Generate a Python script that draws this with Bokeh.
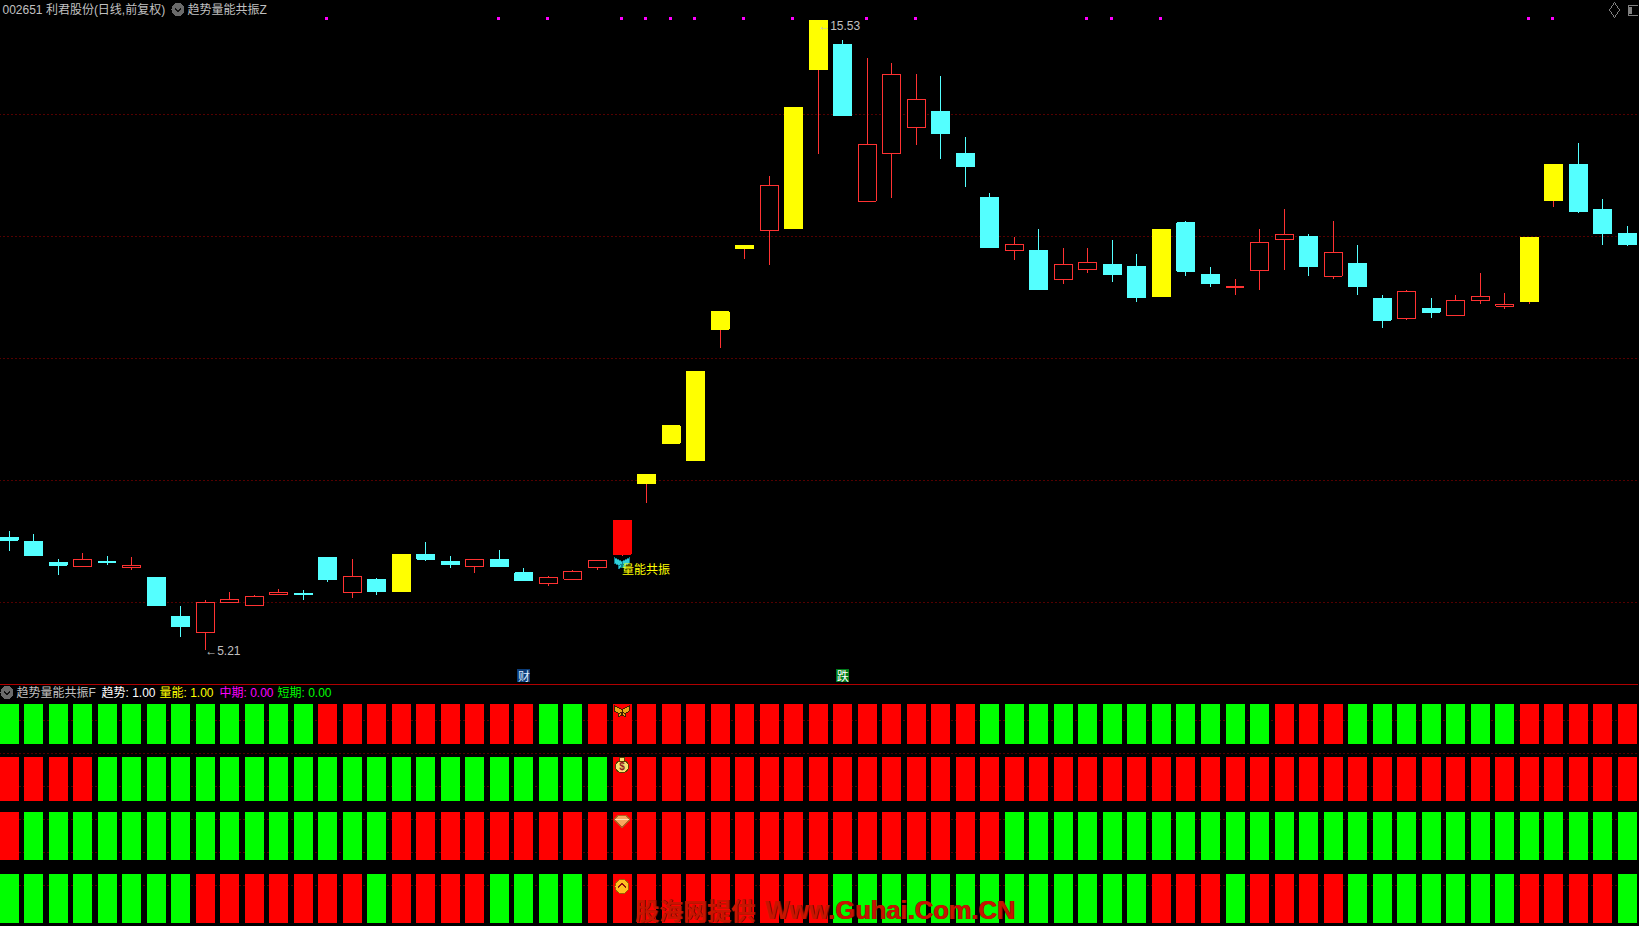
from bokeh.plotting import figure
from bokeh.layouts import column
from bokeh.document import Document
from bokeh.events import DocumentReady
from bokeh.models import Grid, FixedTicker, Label, Span, ColumnDataSource, CustomJS
from bokeh.core.properties import value
from bokeh.embed import file_html
from bokeh.resources import INLINE

# ---------- data ----------
highs = [7.16,7.12,6.71,6.81,6.75,6.73,6.40,5.94,6.04,6.16,6.11,6.22,6.19,6.73,6.71,6.39,6.78,6.99,6.75,6.70,6.85,6.55,6.42,6.52,6.68,7.34,
         8.09,8.89,9.78,10.76,11.85,12.98,14.11,15.53,15.22,14.91,14.84,14.66,14.63,13.63,12.71,11.98,12.12,11.80,11.81,11.94,11.70,12.11,12.25,11.50,11.29,12.12,12.44,
         12.03,12.24,11.85,11.04,11.11,10.98,11.04,11.39,11.06,11.98,13.17,13.53,12.60,12.17]
lows = [6.83,6.75,6.45,6.58,6.60,6.53,5.94,5.42,5.21,5.99,5.94,6.12,6.03,6.32,6.06,6.12,6.17,6.68,6.55,6.47,6.57,6.34,6.27,6.37,6.53,6.75,
        7.62,8.60,8.32,10.16,11.62,11.53,12.12,13.35,13.98,12.57,12.63,13.50,13.27,12.81,11.81,11.60,11.11,11.21,11.39,11.25,10.91,11.01,11.35,11.16,11.04,11.11,11.45,
        11.35,11.30,11.04,10.50,10.62,10.65,10.70,10.88,10.81,10.89,12.48,12.37,11.86,11.83]
opens = [7.06,6.99,6.65,6.58,6.66,6.57,6.40,5.76,5.50,5.99,5.94,6.12,6.14,6.73,6.16,6.37,6.17,6.78,6.66,6.58,6.70,6.48,6.30,6.37,6.57,6.78,
         7.94,8.60,8.32,10.47,11.80,12.09,12.12,14.73,15.14,12.57,13.35,13.78,14.04,13.35,12.63,11.76,11.76,11.29,11.45,11.53,11.50,11.01,12.22,11.37,11.16,11.44,11.94,
         11.99,11.34,11.55,10.98,10.65,10.81,10.70,10.94,10.85,10.93,12.58,13.17,12.44,12.04]
closes = [7.01,6.76,6.60,6.70,6.65,6.60,5.94,5.60,5.99,6.04,6.09,6.16,6.12,6.37,6.42,6.17,6.78,6.70,6.62,6.70,6.58,6.35,6.40,6.50,6.68,7.34,
          8.09,8.89,9.78,10.76,11.85,12.83,14.11,15.53,13.98,13.50,14.65,14.24,13.68,13.14,11.81,11.86,11.12,11.53,11.57,11.37,10.99,12.11,11.42,11.22,11.17,11.89,12.03,
          11.50,11.73,11.17,10.62,11.09,10.75,10.94,11.01,10.88,11.98,13.17,12.40,12.04,11.86]
yellow_bars = [16,26,27,28,29,30,32,33,47,62,63]
solid_bars = [25]
signal_bars = [13,20,22,25,26,27,28,30,32,35,37,44,45,47,62,63]
grid_prices = [6,8,10,12,14]
high_label = "15.53"
low_label = "5.21"

trend_row  = "1111111111111" "000000000" "11" "0000000000000000" "111111111111" "000" "1111111" "00000"
volume_row = "0000" "111111111111111111111" + "0"*42
mid_row    = "0" "111111111111111" + "0"*25 + "1"*26
short_row  = "11111111" "0000000" "1" "0000" "1111" "0000000000" "1111111111111" "000" "1" "0000" "1111111" "0000" "1"
row_tops    = [5.50, 3.89, 2.20, 0.32]
row_bottoms = [4.26, 2.56, 0.77, -1.14]
rows = [trend_row, volume_row, mid_row, short_row]
indicator_grid = [0,1,2,3,4,5]
ind_values = [("趋势", "1.00", "#FFFFFF", 102), ("量能", "1.00", "#FFFF00", 160),
              ("中期", "0.00", "#FF00FF", 220), ("短期", "0.00", "#00FF00", 278)]
title_main = "002651 利君股份(日线,前复权)"
title_formula = "趋势量能共振Z"
title_sub = "趋势量能共振F"

# ---------- style ----------
W, H1, H2 = 1639, 683, 243
N = len(highs)
STEP, X0 = 24.52, 9.5
x_lo, x_hi = -X0 / STEP, (W - X0) / STEP
TXT = "#C0C0C0"
FONT_S = "Liberation Sans, Noto Sans CJK SC"
FONT = value(FONT_S)
CJK = value("Noto Sans CJK SC")
GRID = "#A80000"
RED, CYAN = "#FF3232", "#54FFFF"
Y_TOP = 6 + 601.5 / 61


def panel(h, y0, y1):
    p = figure(width=W, height=h, x_range=(x_lo, x_hi), y_range=(y0, y1),
               toolbar_location=None, output_backend="svg",
               x_axis_location=None, y_axis_location=None,
               background_fill_color="black", border_fill_color="black",
               min_border=0, outline_line_color=None)
    p.xgrid.visible = False
    p.ygrid.visible = False
    return p


def label(p, h, x, y, text, color=TXT, size=12, style="normal", font=FONT_S, align="left"):
    p.add_layout(Label(x=x, y=h - y, x_units="screen", y_units="screen", text=text,
                       text_color=color, text_font_size=f"{size}px", text_font=font,
                       text_font_style=style, text_baseline="middle", text_align=align))


def px_x(x):
    return (x + 0.5 - X0) / STEP
def px_y(y):
    return Y_TOP - y / 61
def y_row(y):
    return (884.5 - y) / 33


def shape(p, yfun, cx, cy, pts, mirror=False, **kw):
    """small icon outline, given in pixel offsets round (cx, cy)"""
    for sign in ((1, -1) if mirror else (1,)):
        xs = [px_x(cx + sign * dx) for dx, dy in pts]
        ys = [yfun(cy + dy) for dx, dy in pts]
        p.patch(xs, ys, **kw)


def stroke(p, yfun, cx, cy, pts, **kw):
    p.line([px_x(cx + dx) for dx, dy in pts], [yfun(cy + dy) for dx, dy in pts], **kw)


UPPER_WING = [(0, -1), (-8, -5), (-7, 1), (-3, 3), (0, 2)]
LOWER_WING = [(0, 2), (-4, 3), (-3, 6), (-1, 5), (0, 3)]

# ---------- price panel ----------
top = panel(H1, Y_TOP - H1 / 61, Y_TOP)
top.add_layout(Grid(dimension=1, ticker=FixedTicker(ticks=grid_prices), grid_line_color=GRID,
                    grid_line_dash="1 3", grid_line_width=1))

kind = []
for i in range(N):
    if i in yellow_bars:
        kind.append("yellow")
    elif i in solid_bars:
        kind.append("solid")
    elif closes[i] >= opens[i]:
        kind.append("up")
    else:
        kind.append("down")

for k, wick_c, fill, line in [("up", RED, None, RED), ("down", CYAN, CYAN, CYAN),
                               ("yellow", RED, "#FFFF00", "#FFFF00"), ("solid", RED, "#FF0000", "#FF0000")]:
    idx = [i for i in range(N) if kind[i] == k]
    src = ColumnDataSource(dict(x=idx, h=[highs[i] for i in idx], l=[lows[i] for i in idx],
                                t=[max(opens[i], closes[i]) for i in idx],
                                b=[min(opens[i], closes[i]) for i in idx]))
    top.segment("x", "h", "x", "l", source=src, line_color=wick_c, line_width=1)
    top.vbar("x", 18 / STEP, "b", "t", source=src, fill_color=fill if fill else "black",
             fill_alpha=1, line_color=line, line_width=1)

top.rect([i - 0.04 for i in signal_bars], [15.56] * len(signal_bars), width=3, height=3, width_units="screen",
         height_units="screen", color="#FF00FF", line_color=None)

# extreme labels
hi_i, lo_i = highs.index(max(highs)), lows.index(min(lows))
top.text([hi_i], [max(highs) - 0.09], text=["←" + high_label], text_color=TXT, text_font=FONT,
         text_font_size="12px", text_baseline="middle", text_align="left")
top.text([lo_i], [min(lows) - 0.01], text=["←" + low_label], text_color=TXT, text_font=FONT,
         text_font_size="12px", text_baseline="middle", text_align="left")

# resonance marker at bar 25
sig = solid_bars[0]
SIG_X = 622
shape(top, px_y, SIG_X, 562, UPPER_WING, mirror=True, color="#30D0D8", line_color="#108090")
shape(top, px_y, SIG_X, 562, LOWER_WING, mirror=True, color="#30D0D8", line_color="#108090")
top.text([sig], [6.55], text=["量能共振"], text_color="#FFFF00", text_font=CJK, text_font_size="12px",
         text_baseline="middle", text_align="left")

# news badges
top.rect([21], [4.79], width=13, height=13, width_units="screen", height_units="screen",
         color="#0B3C78", line_color=None)
top.text([21], [4.79], text=["财"], text_color="#D8E8FF", text_font=CJK, text_font_size="12px",
         text_baseline="middle", text_align="center")
top.rect([34], [4.79], width=13, height=13, width_units="screen", height_units="screen",
         color="#007A1A", line_color=None)
top.text([34], [4.79], text=["跌"], text_color="#FFFFFF", text_font=CJK, text_font_size="12px",
         text_baseline="middle", text_align="center")

# header
CHEVRON = [(-3, -1), (0, 2), (3, -1)]
top.circle([px_x(178)], [px_y(9)], radius=6, radius_units="screen", color="#6A6A6A")
stroke(top, px_y, 178, 9, CHEVRON, line_color="#101010", line_width=1.5)
label(top, H1, 3, 9, title_main)
label(top, H1, 188, 9, title_formula)
top.scatter([px_x(1614.5)], [px_y(9.5)], marker="diamond", size=15, fill_color=None, line_color="#808080")
top.rect([px_x(1633)], [px_y(9.5)], width=10, height=10, width_units="screen", height_units="screen",
         fill_color=None, line_color="#808080")
top.rect([px_x(1630.5)], [px_y(9.5)], width=3, height=7, width_units="screen", height_units="screen",
         color="#808080", line_color=None)

# ---------- indicator panel ----------
bot = panel(H2, (884.5 - 926) / 33, (884.5 - 683) / 33)
bot.add_layout(Grid(dimension=1, ticker=FixedTicker(ticks=indicator_grid), grid_line_color=GRID,
                    grid_line_dash="1 3", grid_line_width=1))
bot.add_layout(Span(location=(884.5 - 683.5) / 33, dimension="width", line_color="#B00000", line_width=1))
bot.add_layout(Span(location=(884.5 - 925.5) / 33, dimension="width", line_color="#B00000", line_width=1))

for row, t, b in zip(rows, row_tops, row_bottoms):
    for flag, col in (("1", "#00FF00"), ("0", "#FF0000")):
        idx = [i for i, c in enumerate(row) if c == flag]
        bot.vbar(idx, 19 / STEP, [b] * len(idx), [t] * len(idx), color=col, line_color=None)

# icons at the signal bar
shape(bot, y_row, SIG_X, 710, UPPER_WING, mirror=True, color="#E8A818", line_color="#402000")
shape(bot, y_row, SIG_X, 710, LOWER_WING, mirror=True, color="#E8A818", line_color="#402000")
bot.scatter([px_x(SIG_X)], [y_row(766)], marker="circle", size=13, color="#F8E070", line_color="#604000")
shape(bot, y_row, SIG_X, 758, [(-3, -1), (3, -1), (2, 3), (-2, 3)], color="#F8E070", line_color="#604000")
bot.text([px_x(SIG_X)], [y_row(766)], text=["$"], text_color="#902020", text_font=value("Liberation Sans"),
         text_font_size="10px", text_font_style="bold", text_baseline="middle", text_align="center")
shape(bot, y_row, SIG_X, 821, [(-8, -2), (-4, -6), (4, -6), (8, -2), (0, 6)], color="#F8A860", line_color="#B06020")
stroke(bot, y_row, SIG_X, 821, [(-7, -2), (7, -2)], line_color="#FFE0B0", line_width=1)
bot.scatter([px_x(SIG_X)], [y_row(886)], marker="circle", size=14, color="#FFC020", line_color="#A06000")
stroke(bot, y_row, SIG_X, 886, [(-4, 1), (0, -3), (4, 1)], line_color="#901010", line_width=2)

# header row of the indicator
bot.circle([px_x(7)], [y_row(692)], radius=6, radius_units="screen", color="#6A6A6A")
stroke(bot, y_row, 7, 692, CHEVRON, line_color="#101010", line_width=1.5)
label(bot, H2, 17, 9, title_sub)
for name, val, col, px in ind_values:
    label(bot, H2, px, 9, f"{name}: {val}", color=col)

# watermark
for dx, col in ((1, "#701000"), (0, "#C81400")):
    bot.text([px_x(635 + dx)], [y_row(909)], text=["股海网提供"], text_color=col, text_font=CJK,
             text_font_size="24px", text_font_style="bold", text_baseline="middle", text_align="left")
    bot.text([px_x(765 + dx)], [y_row(909)], text=["Www.Guhai.Com.CN"], text_color=col,
             text_font=value("Liberation Sans"), text_font_size="25.5px", text_font_style="bold",
             text_baseline="middle", text_align="left")

layout = column(top, bot, spacing=0, margin=(0, -1, 0, -1))

# the terminal draws with hard pixel edges on a black page
crisp = CustomJS(code="""
function walk(root){
  root.querySelectorAll('*').forEach(el => {
    if (el.tagName.toLowerCase() === 'svg') el.setAttribute('shape-rendering', 'crispEdges');
    if (el.hasAttribute('stroke-dasharray')) el.setAttribute('shape-rendering', 'auto');
    if (el.shadowRoot) walk(el.shadowRoot);
  });
}
document.documentElement.style.background = '#000';
document.body.style.background = '#000';
walk(document);
setTimeout(() => walk(document), 100);
setTimeout(() => walk(document), 400);
""")
doc = Document()
doc.add_root(layout)
doc.js_on_event(DocumentReady, crisp)
open("out.html", "w").write(file_html(doc, INLINE))
